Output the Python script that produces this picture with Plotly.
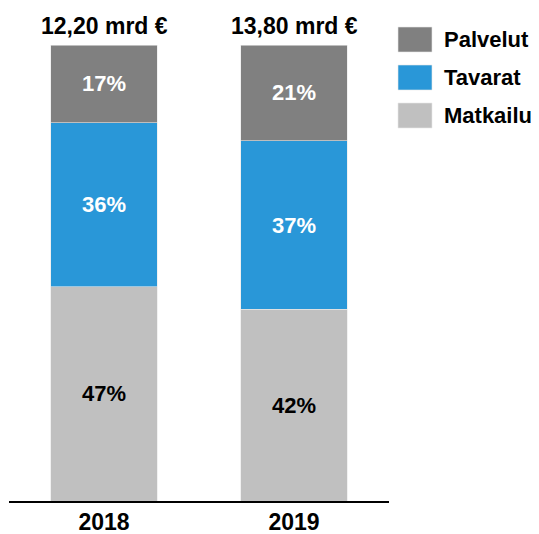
import plotly.graph_objects as go

years = ["2018", "2019"]
totals = ["12,20 mrd €", "13,80 mrd €"]
series_names = ["Matkailu", "Tavarat", "Palvelut"]
matkailu = [47, 42]
tavarat = [36, 37]
palvelut = [17, 21]
colors = {"Matkailu": "#C0C0C0", "Tavarat": "#2997D8", "Palvelut": "#808080"}
text_colors = {"Matkailu": "black", "Tavarat": "white", "Palvelut": "white"}

OFF = 8  # page body margin
W, H = 539 - OFF, 534 - OFF
L, R, T, B = 9 - OFF, 389 - OFF, 45 - OFF, 501 - OFF
FONT = "Liberation Sans, Arial, sans-serif"
FS = 22
FS_BIG = 23

fig = go.Figure()
for name, vals in zip(series_names, [matkailu, tavarat, palvelut]):
    fig.add_trace(go.Bar(
        x=years, y=vals, name=name,
        marker=dict(color=colors[name], line=dict(color="#e8e8e8", width=0.6)),
        text=[f"<b>{v}%</b>" for v in vals],
        textposition="inside", insidetextanchor="middle", textangle=0,
        textfont=dict(family=FONT, size=FS, color=text_colors[name]),
        hoverinfo="skip",
    ))

def px2paper_x(px):
    return (px - OFF - L) / (R - L)

def px2paper_y(py):
    return (B - (py - OFF)) / (B - T)

annotations = []
for i, tot in enumerate(totals):
    annotations.append(dict(x=i, y=100, xref="x", yref="y", text=f"<b>{tot}</b>",
                            showarrow=False, yanchor="bottom", yshift=4,
                            font=dict(family=FONT, size=FS_BIG, color="black")))

shapes = []
legend_items = [("Palvelut", 27), ("Tavarat", 65), ("Matkailu", 103)]
for name, top in legend_items:
    shapes.append(dict(type="rect", xref="paper", yref="paper",
                       x0=px2paper_x(398), x1=px2paper_x(432),
                       y0=px2paper_y(top + 25), y1=px2paper_y(top),
                       fillcolor=colors[name], line=dict(color="#e8e8e8", width=0.6)))
    annotations.append(dict(x=px2paper_x(442), y=px2paper_y(top + 12.5), xref="paper", yref="paper",
                            text=f"<b>{name}</b>", showarrow=False, xanchor="left", yanchor="middle",
                            font=dict(family=FONT, size=FS, color="black")))

fig.update_layout(
    barmode="stack", bargap=0.44,
    width=W, height=H, autosize=False,
    margin=dict(l=L, r=W - R, t=T, b=H - B, pad=0, autoexpand=False),
    paper_bgcolor="white", plot_bgcolor="white",
    showlegend=False,
    xaxis=dict(type="category", range=[-0.5, 1.5], automargin=False,
               showline=True, linecolor="black", linewidth=1.5, ticks="",
               tickvals=years, ticktext=[f"<b>{y}</b>" for y in years],
               tickfont=dict(family=FONT, size=FS_BIG, color="black"), showgrid=False),
    yaxis=dict(range=[0, 100], visible=False, showgrid=False, automargin=False),
    annotations=annotations, shapes=shapes,
)

fig.write_html("out.html")
